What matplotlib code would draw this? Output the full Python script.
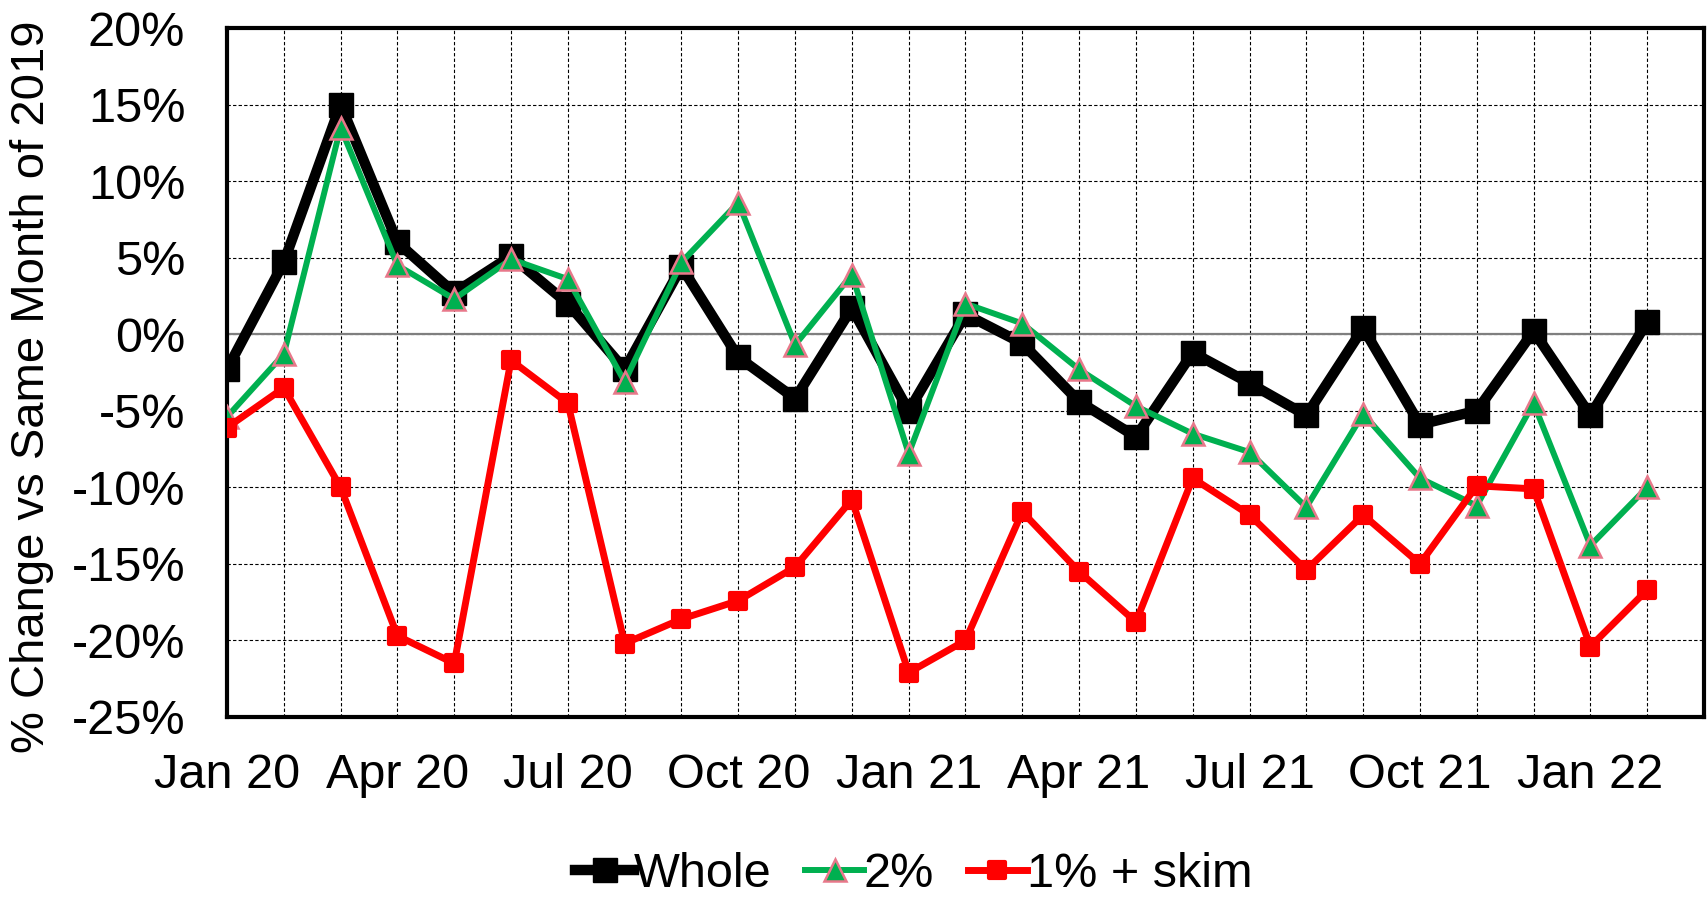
import matplotlib
matplotlib.use("Agg")
import matplotlib.pyplot as plt
from matplotlib.markers import MarkerStyle
from matplotlib.ticker import FuncFormatter, MultipleLocator

plt.rcParams['font.family'] = ['Liberation Sans', 'DejaVu Sans']

months = ["Jan 20", "Feb 20", "Mar 20", "Apr 20", "May 20", "Jun 20", "Jul 20", "Aug 20",
          "Sep 20", "Oct 20", "Nov 20", "Dec 20", "Jan 21", "Feb 21", "Mar 21", "Apr 21",
          "May 21", "Jun 21", "Jul 21", "Aug 21", "Sep 21", "Oct 21", "Nov 21", "Dec 21",
          "Jan 22", "Feb 22"]

whole = [-2.3, 4.7, 15.0, 6.0, 2.7, 5.1, 2.0, -2.3, 4.4, -1.5, -4.2, 1.7, -5.0,
         1.3, -0.6, -4.4, -6.7, -1.2, -3.2, -5.3, 0.4, -5.9, -5.0, 0.2, -5.3, 0.8]
two_pct = [-5.4, -1.3, 13.5, 4.5, 2.3, 4.9, 3.6, -3.1, 4.7, 8.6, -0.7, 3.9, -7.8,
           2.0, 0.7, -2.3, -4.7, -6.5, -7.7, -11.3, -5.2, -9.4, -11.2, -4.5, -13.8, -10.0]
one_skim = [-6.1, -3.5, -10.0, -19.7, -21.5, -1.7, -4.5, -20.2, -18.6, -17.4, -15.2, -10.8, -22.1,
            -20.0, -11.6, -15.5, -18.8, -9.4, -11.8, -15.4, -11.8, -15.0, -9.9, -10.1, -20.4, -16.7]

series_names = ["Whole", "2%", "1% + skim"]
tick_labels = ["Jan 20", "Apr 20", "Jul 20", "Oct 20", "Jan 21", "Apr 21", "Jul 21", "Oct 21", "Jan 22"]
y_label = "% Change vs Same Month of 2019"

FS = 35

fig = plt.figure(figsize=(17.08, 9.01), dpi=100)
ax = fig.add_axes([227/1708, 1-717/901, (1704-227)/1708, (717-28)/901])

x = list(range(len(months)))

ax.axhline(0, color='#7f7f7f', lw=1.6, zorder=1)

ax.plot(x, whole, color='black', lw=7.5, marker='s', markersize=17,
        markerfacecolor='black', markeredgecolor='black', label=series_names[0], zorder=3)
ax.plot(x, two_pct, color='#00B050', lw=4.3, marker='^', markersize=15.5,
        markerfacecolor='#00B050', markeredgecolor='#E8788A', markeredgewidth=1.8,
        label=series_names[1], zorder=4)
ax.plot(x, one_skim, color='#FF0000', lw=5, marker=MarkerStyle('s', joinstyle='round'),
        markersize=11.5, markerfacecolor='#FF0000', markeredgecolor='#FF0000', markeredgewidth=3,
        label=series_names[2], zorder=5)

ax.set_xlim(0, 26)
ax.set_ylim(-25, 20)
ax.yaxis.set_major_locator(MultipleLocator(5))
ax.yaxis.set_major_formatter(FuncFormatter(lambda v, p: f"{v:.0f}%"))
ax.set_xticks(list(range(0, 27)))
ax.set_xticklabels([months[i] if (i < len(months) and months[i] in tick_labels) else "" for i in range(27)])

ax.grid(True, which='major', color='black', linestyle=(0, (3, 2)), linewidth=0.8, zorder=0)
ax.set_axisbelow(True)
ax.tick_params(axis='both', length=0, labelsize=FS)
ax.tick_params(axis='y', pad=30)
ax.tick_params(axis='x', pad=26)

for s in ax.spines.values():
    s.set_linewidth(3)
    s.set_color('black')

ax.set_ylabel(y_label, fontsize=34)
ax.yaxis.set_label_coords(-0.117, 0.48)

leg = fig.legend(loc='center', bbox_to_anchor=(0.535, 0.029), ncol=3, frameon=False,
                 fontsize=FS, handlelength=1.2, handletextpad=0.0, columnspacing=0.7,
                 borderpad=0.1)

fig.savefig("out.png", dpi=100)
